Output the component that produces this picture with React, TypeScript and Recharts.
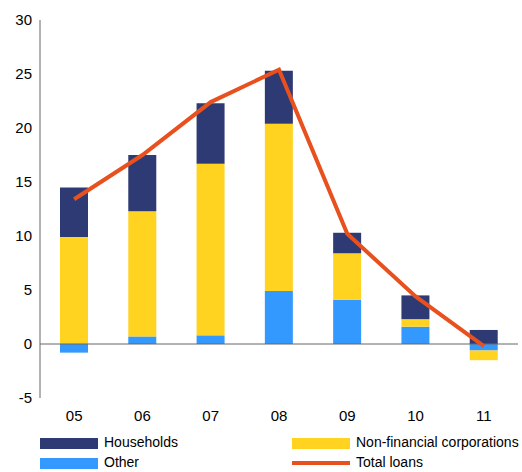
import React from 'react';
import { Bar, ComposedChart, Line, ReferenceLine, XAxis, YAxis } from 'recharts';

const years = ['05', '06', '07', '08', '09', '10', '11'];
const households = [4.6, 5.2, 5.6, 4.9, 1.9, 2.2, 1.3];
const nonFinancial = [9.9, 11.6, 15.9, 15.5, 4.3, 0.7, -0.9];
const other = [-0.8, 0.7, 0.8, 4.9, 4.1, 1.6, -0.6];
const totalLoans = [13.4, 17.5, 22.4, 25.4, 10.2, 4.4, -0.2];
const yTicks = [-5, 0, 5, 10, 15, 20, 25, 30];

const data = years.map((y, i) => ({
  name: y,
  other: other[i],
  nfc: nonFinancial[i],
  hh: households[i],
  total: totalLoans[i],
}));

const font = '"Liberation Sans", Arial, sans-serif';

function Swatch({ color, line }: { color: string; line?: boolean }) {
  return (
    <span
      style={{
        display: 'inline-block',
        width: 58,
        height: line ? 4 : 11,
        background: color,
        marginRight: 6,
        verticalAlign: 'middle',
      }}
    />
  );
}

export default function App() {
  return (
    <div style={{ position: 'absolute', left: 0, top: 0, width: 522, height: 472, background: '#fff', fontFamily: font }}>
      <ComposedChart width={522} height={428} data={data} stackOffset="sign" margin={{ top: 20, right: 4, left: -20, bottom: 0 }}>
        <XAxis dataKey="name" axisLine={false} tickLine={false} tick={{ fill: '#000', fontSize: 15 }} dy={4} />
        <YAxis
          domain={[-5, 30]}
          ticks={yTicks}
          interval={0}
          tick={{ fill: '#000', fontSize: 15 }}
          axisLine={{ stroke: '#666' }}
          tickLine={false}
          width={60}
        />
        <ReferenceLine y={0} stroke="#666" />
        <Bar dataKey="other" stackId="a" fill="#3399FF" barSize={28} isAnimationActive={false} />
        <Bar dataKey="nfc" stackId="a" fill="#FFD320" barSize={28} isAnimationActive={false} />
        <Bar dataKey="hh" stackId="a" fill="#2E3A74" barSize={28} isAnimationActive={false} />
        <Line dataKey="total" stroke="#E8501E" strokeWidth={4} dot={false} isAnimationActive={false} />
      </ComposedChart>
      <div style={{ position: 'absolute', top: 432, left: 40, fontSize: 14, lineHeight: '20px' }}>
        <div><Swatch color="#2E3A74" />Households</div>
        <div><Swatch color="#3399FF" />Other</div>
      </div>
      <div style={{ position: 'absolute', top: 432, left: 292, fontSize: 14, lineHeight: '20px' }}>
        <div><Swatch color="#FFD320" />Non-financial corporations</div>
        <div><Swatch color="#E8501E" line />Total loans</div>
      </div>
    </div>
  );
}
